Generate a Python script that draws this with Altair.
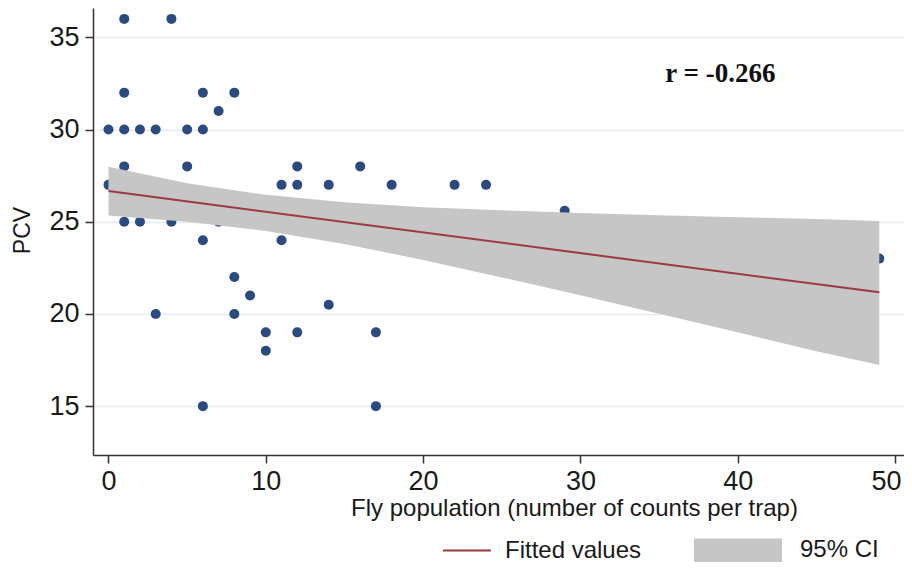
import altair as alt
import pandas as pd

# Scatter data: fly population (x) vs PCV (y)
fly = [0, 0, 1, 1, 1, 1, 1, 2, 2, 3, 3, 4, 4, 5, 5, 6, 6, 6, 6, 7, 7, 8, 8, 8,
       9, 9, 10, 10, 11, 11, 12, 12, 12, 14, 14, 16, 17, 17, 18, 22, 24, 29, 49]
pcv = [30, 27, 36, 32, 30, 28, 25, 30, 25, 30, 20, 36, 25, 30, 28, 32, 30, 24, 15, 31, 25, 32, 22, 20,
       25, 21, 19, 18, 27, 24, 28, 27, 19, 27, 20.5, 28, 19, 15, 27, 27, 27, 25.6, 23]

# Fitted line and 95% CI band
ci_x = [0, 5, 10, 15, 20, 25, 30, 35, 40, 45, 49]
ci_lo = [25.34, 25.0, 24.5, 23.79, 22.93, 21.98, 21.01, 20.01, 19.0, 17.97, 17.23]
ci_hi = [27.98, 27.08, 26.46, 26.05, 25.79, 25.62, 25.47, 25.35, 25.24, 25.15, 25.04]
fit_x = [0, 49]
fit_y = [26.66, 21.17]

# Annotation
note_text = ["r = -0.266"]
note_x = [38.9]
note_y = [33.0]

legend_names = ["Fitted values", "95% CI"]
legend_colors = ["#9b3a42", "#c6c6c6"]
legend_shapes = ["M0,-0.025H1.09V0.025H0Z", "M-1,-0.273H1V0.273H-1Z"]

FONT = "Liberation Sans"
XDOM = [-0.985, 50.57]
YDOM = [12.35, 36.59]

pts = pd.DataFrame({"x": fly, "y": pcv})
band = pd.DataFrame({"x": ci_x, "lo": ci_lo, "hi": ci_hi})
fit = pd.DataFrame({"x": fit_x, "y": fit_y})
note = pd.DataFrame({"t": note_text, "x": note_x, "y": note_y})
leg = pd.DataFrame({"name": legend_names, "x": [-100, -100], "y": [20, 20]})

xs = alt.Scale(domain=XDOM, nice=False, zero=False)
ys = alt.Scale(domain=YDOM, nice=False, zero=False)

xaxis = alt.Axis(values=[0, 10, 20, 30, 40, 50], title="Fly population (number of counts per trap)",
                 grid=False, tickSize=8, labelPadding=5, labelFontSize=27,
                 labelFlush=10, labelFlushOffset=6,
                 titleFontSize=24, titleX=481, titleY=41, titleAnchor="middle",
                 titleAlign="center", titleBaseline="top")
yaxis = alt.Axis(values=[15, 20, 25, 30, 35], title="PCV", grid=True, tickSize=8,
                 labelPadding=6, labelFontSize=27, titleFontSize=23,
                 titleAngle=270, titleX=-71, titleY=222, titleAlign="center",
                 titleBaseline="middle")

scatter = alt.Chart(pts).mark_circle(size=100, color="#2b4a7e", opacity=1).encode(
    x=alt.X("x:Q", scale=xs, axis=xaxis),
    y=alt.Y("y:Q", scale=ys, axis=yaxis),
)

area = alt.Chart(band).mark_area(color="#c6c6c6", opacity=1).encode(
    x=alt.X("x:Q", scale=xs),
    y=alt.Y("lo:Q", scale=ys),
    y2="hi:Q",
)

line = alt.Chart(fit).mark_line(color="#9b3a42", strokeWidth=2).encode(
    x=alt.X("x:Q", scale=xs),
    y=alt.Y("y:Q", scale=ys),
)

text = alt.Chart(note).mark_text(font="Liberation Serif", fontWeight="bold", fontSize=27,
                                  color="#111111", align="center", baseline="middle").encode(
    x=alt.X("x:Q", scale=xs),
    y=alt.Y("y:Q", scale=ys),
    text="t:N",
)

legend_cfg = alt.Legend(title=None, orient="none", legendX=306, legendY=498, direction="horizontal",
                        symbolSize=7744, labelFontSize=24, labelFont=FONT, labelColor="#1a1a1a",
                        labelOffset=18, columnPadding=52, padding=0, symbolStrokeWidth=0,
                        symbolOpacity=1)
legend_layer = alt.Chart(leg).mark_point(filled=True, clip=True, size=7744, opacity=1).encode(
    x=alt.X("x:Q", scale=xs),
    y=alt.Y("y:Q", scale=ys),
    color=alt.Color("name:N", scale=alt.Scale(domain=legend_names, range=legend_colors), legend=legend_cfg),
    shape=alt.Shape("name:N", scale=alt.Scale(domain=legend_names, range=legend_shapes), legend=legend_cfg),
)

chart = alt.layer(scatter, area, line, text, legend_layer).properties(
    width=811, height=447,
    autosize=alt.AutoSizeParams(type="none"),
    padding={"left": 85, "top": 0, "right": 0, "bottom": 107},
    background="white",
).configure_view(stroke=None).configure_axis(
    labelFont=FONT, titleFont=FONT, labelColor="#1a1a1a", titleColor="#1a1a1a",
    titleFontWeight="normal", domainColor="#333333", domainWidth=1.5,
    tickColor="#333333", tickWidth=1.5, gridColor="#e4eaf2", gridWidth=1.5,
)

chart.save("out.html", embed_options={"renderer": "svg", "actions": False})
